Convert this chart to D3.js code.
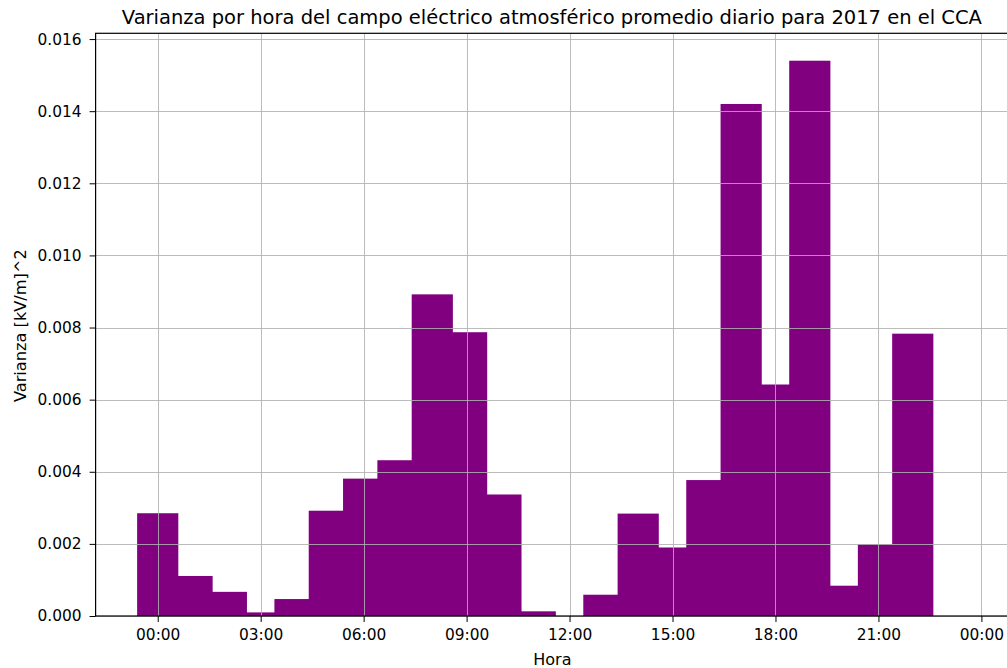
<!DOCTYPE html>
<html>
<head>
<meta charset="utf-8">
<script src="https://cdn.jsdelivr.net/npm/d3@7"></script>
<style>
  html, body { margin: 0; padding: 0; background: #fff; }
  svg { display: block; font-family: "DejaVu Sans", sans-serif; }
</style>
</head>
<body>
<svg id="chart" width="1007" height="668"></svg>
<script>
// Data: hourly variance (hours 0..23), hour 12 and 23 have no bar
const hours = [0,1,2,3,4,5,6,7,8,9,10,11,12,13,14,15,16,17,18,19,20,21,22,23];
const variance = [0.00285,0.00111,0.00067,0.00010,0.00047,0.00292,0.00381,0.00432,0.00892,0.00787,0.00337,0.00013,0,0.00059,0.00284,0.00190,0.00377,0.01420,0.00642,0.01540,0.00084,0.00199,0.00783,0];
const xTickHours = [0,3,6,9,12,15,18,21,24];
const xTickLabels = ["00:00","03:00","06:00","09:00","12:00","15:00","18:00","21:00","00:00"];
const yTicks = [0,0.002,0.004,0.006,0.008,0.010,0.012,0.014,0.016];
const barWidthHours = 1.2;

const svg = d3.select("#chart");
const mLeft = 95.6, mRight = 1009.2, mTop = 33.3, mBottom = 616;

const x = d3.scaleLinear().domain([-1.81, 24.81]).range([mLeft, mRight]);
const y = d3.scaleLinear().domain([0, 0.01616]).range([mBottom, mTop]);

// Bars
svg.append("g").selectAll("rect")
  .data(hours.map((h, i) => ({h, v: variance[i]})).filter(d => d.v > 0))
  .join("rect")
  .attr("x", d => x(d.h - barWidthHours / 2))
  .attr("width", d => x(d.h + barWidthHours / 2) - x(d.h - barWidthHours / 2))
  .attr("y", d => y(d.v))
  .attr("height", d => y(0) - y(d.v))
  .attr("fill", "#800080");

// Grid (drawn above bars as in matplotlib)
const grid = svg.append("g").attr("stroke", "#b0b0b0").attr("stroke-width", 1).attr("stroke-opacity", 0.85);
grid.selectAll("line.v").data(xTickHours).join("line").attr("class", "v")
  .attr("x1", d => Math.round(x(d)) + 0.5).attr("x2", d => Math.round(x(d)) + 0.5)
  .attr("y1", mTop).attr("y2", mBottom);
grid.selectAll("line.h").data(yTicks).join("line").attr("class", "h")
  .attr("y1", d => Math.round(y(d)) + 0.5).attr("y2", d => Math.round(y(d)) + 0.5)
  .attr("x1", mLeft).attr("x2", mRight);

// Axes
const xAxis = d3.axisBottom(x).tickValues(xTickHours)
  .tickFormat((d, i) => xTickLabels[i]).tickSize(6).tickPadding(7);
const gx = svg.append("g").attr("transform", `translate(0,${mBottom})`).call(xAxis);
const yAxis = d3.axisLeft(y).tickValues(yTicks)
  .tickFormat(d3.format(".3f")).tickSize(6).tickPadding(8);
const gy = svg.append("g").attr("transform", `translate(${mLeft},0)`).call(yAxis);
[gx, gy].forEach(g => {
  g.selectAll(".domain").remove();
  g.selectAll("text").attr("font-size", "15.4px").attr("font-family", "DejaVu Sans").attr("fill", "#000");
  g.selectAll(".tick line").attr("stroke", "#000").attr("stroke-width", 1);
});

// Spines
const sp = svg.append("g").attr("stroke", "#000").attr("stroke-width", 1.2).attr("fill", "none");
sp.append("rect").attr("x", mLeft).attr("y", mTop).attr("width", mRight - mLeft).attr("height", mBottom - mTop);

// Titles
svg.append("text").attr("x", (mLeft + mRight) / 2 - 0.5).attr("y", 24)
  .attr("text-anchor", "middle").attr("font-size", "19.5px").attr("fill", "#000")
  .text("Varianza por hora del campo eléctrico atmosférico promedio diario para 2017 en el CCA");
svg.append("text").attr("x", (mLeft + mRight) / 2).attr("y", 665)
  .attr("text-anchor", "middle").attr("font-size", "16px").attr("fill", "#000")
  .text("Hora");
svg.append("text").attr("transform", `translate(26,${(mTop + mBottom) / 2 + 1}) rotate(-90)`)
  .attr("text-anchor", "middle").attr("font-size", "16.2px").attr("fill", "#000")
  .text("Varianza [kV/m]^2");
</script>
</body>
</html>
